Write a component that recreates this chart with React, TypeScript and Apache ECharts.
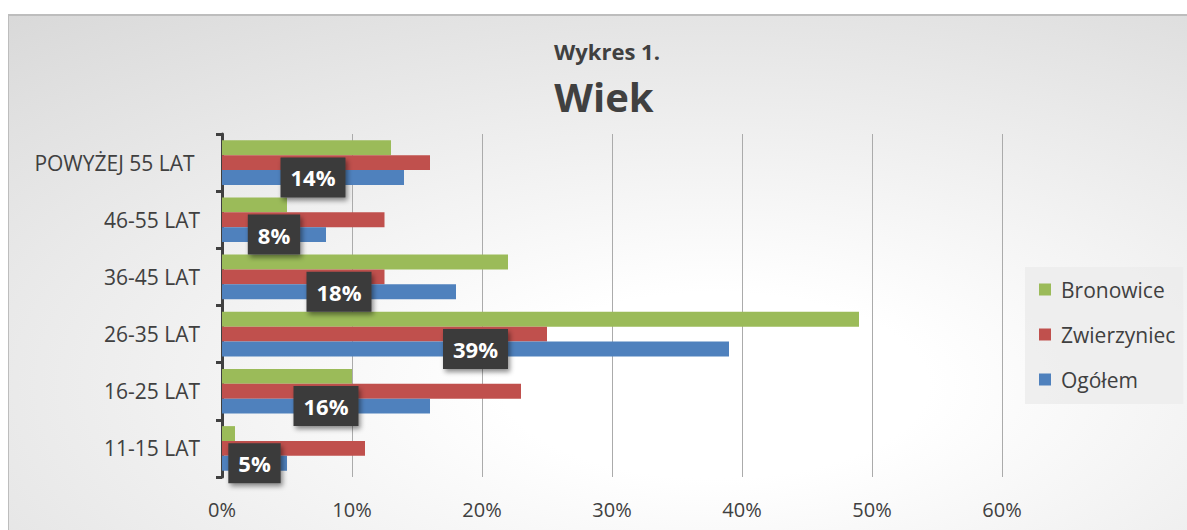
import { useEffect, useRef } from 'react';
import * as echarts from 'echarts';

const categories = ['11-15 LAT', '16-25 LAT', '26-35 LAT', '36-45 LAT', '46-55 LAT', 'POWYŻEJ 55 LAT '];
const ogolem = [5, 16, 39, 18, 8, 14];
const zwierzyniec = [11, 23, 25, 12.5, 12.5, 16];
const bronowice = [1, 10, 49, 22, 5, 13];
const seriesNames = ['Bronowice', 'Zwierzyniec', 'Ogółem'];
const legendOrder = ['Bronowice', 'Zwierzyniec', 'Ogółem'];
const titleTop = 'Wykres 1.';
const titleMain = 'Wiek';

const FONT = '"Open Sans", sans-serif';
const TXT = '#404040';

export default function App() {
  const ref = useRef<HTMLDivElement>(null);
  useEffect(() => {
    if (!ref.current) return;
    const chart = echarts.init(ref.current, undefined, { renderer: 'svg' });
    chart.setOption({
      animation: false,
      backgroundColor: '#ffffff',
      textStyle: { fontFamily: FONT },
      graphic: [
        {
          type: 'rect',
          z: -10,
          shape: { x: 8, y: 14, width: 1179, height: 516 },
          style: {
            fill: {
              type: 'radial',
              x: 0.6,
              y: 0.72,
              r: 1.5,
              colorStops: [
                { offset: 0, color: '#ffffff' },
                { offset: 0.12, color: '#ffffff' },
                { offset: 1, color: '#bcbcbc' },
              ],
            },
          },
        },
        { type: 'line', z: -9, shape: { x1: 8, y1: 15, x2: 1187, y2: 15 }, style: { stroke: '#bdbdbd', lineWidth: 2 } },
        { type: 'line', z: -9, shape: { x1: 8.5, y1: 14, x2: 8.5, y2: 530 }, style: { stroke: '#bdbdbd', lineWidth: 1 } },
      ],
      title: [
        {
          text: titleTop,
          left: 607,
          top: 40,
          textAlign: 'center',
          padding: 0,
          textStyle: { fontFamily: FONT, fontSize: 22, fontWeight: 'bold', color: TXT },
        },
        {
          text: titleMain,
          left: 604,
          top: 76,
          textAlign: 'center',
          padding: 0,
          textStyle: { fontFamily: FONT, fontSize: 40, fontWeight: 'bold', color: TXT },
        },
      ],
      legend: {
        data: legendOrder,
        orient: 'vertical',
        left: 1025,
        top: 267,
        padding: [12, 8, 14, 14],
        itemWidth: 12,
        itemHeight: 12,
        itemGap: 24,
        backgroundColor: 'rgba(236,236,236,0.85)',
        icon: 'rect',
        textStyle: { fontFamily: FONT, fontSize: 21, color: TXT, padding: [0, 0, 0, 5] },
      },
      grid: { left: 222, right: 185, top: 134, bottom: 53, containLabel: false },
      xAxis: {
        type: 'value',
        min: 0,
        max: 60,
        interval: 10,
        axisLine: { show: false },
        axisTick: { show: false },
        axisLabel: { formatter: '{value}%', fontFamily: FONT, fontSize: 20, color: TXT, margin: 22 },
        splitLine: { show: true, lineStyle: { color: '#ababab', width: 1 } },
      },
      yAxis: {
        type: 'category',
        data: categories,
        axisLine: { show: true, lineStyle: { color: TXT, width: 3 } },
        axisTick: { show: true, length: 6, lineStyle: { color: TXT, width: 3 } },
        axisLabel: { fontFamily: FONT, fontSize: 21, color: TXT, margin: 22 },
      },
      series: [
        {
          name: seriesNames[0],
          type: 'bar',
          data: bronowice,
          barGap: '0%',
          barCategoryGap: '22%',
          itemStyle: { color: '#9bbb59' },
          z: 2,
        },
        {
          name: seriesNames[1],
          type: 'bar',
          data: zwierzyniec,
          barGap: '0%',
          barCategoryGap: '22%',
          itemStyle: { color: '#c0504d' },
          z: 2,
        },
        {
          name: seriesNames[2],
          type: 'bar',
          data: ogolem,
          barGap: '0%',
          barCategoryGap: '22%',
          itemStyle: { color: '#4f81bd' },
          label: {
            show: true,
            position: 'inside',
            formatter: '{c}%',
            color: '#ffffff',
            fontFamily: FONT,
            fontWeight: 'bold',
            fontSize: 22,
            backgroundColor: '#3b3b3b',
            padding: [9, 10],
            shadowBlur: 5,
            shadowOffsetX: 2,
            shadowOffsetY: 3,
            shadowColor: 'rgba(0,0,0,0.45)',
          },
          z: 3,
        },
      ],
    });
    return () => chart.dispose();
  }, []);
  return <div ref={ref} style={{ position: 'fixed', left: 0, top: 0, width: 1187, height: 530 }} />;
}
